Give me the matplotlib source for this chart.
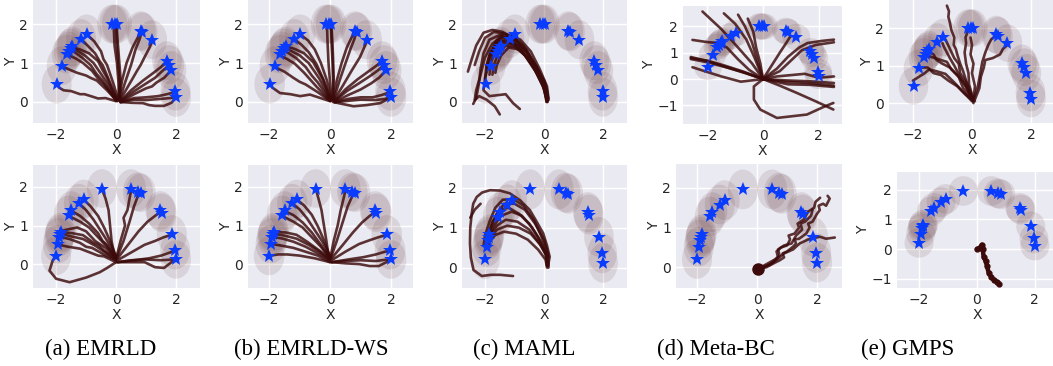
import matplotlib
matplotlib.use("Agg")
import matplotlib.pyplot as plt
from matplotlib.patches import Circle

# ---------------- data ----------------
top_goals_x = [-1.98, -1.81, -1.64, -1.57, -1.51, -1.46, -1.17, -0.98, -0.13, -0.05, 0.03,
               0.82, 0.88, 1.20, 1.70, 1.77, 1.84, 1.98, 2.00]
top_goals_y = [0.46, 0.93, 1.23, 1.31, 1.38, 1.43, 1.63, 1.75, 2.00, 2.00, 2.00,
               1.83, 1.80, 1.60, 1.06, 0.96, 0.81, 0.28, 0.12]
bot_goals_x = [-2.00, -1.94, -1.90, -1.87, -1.85, -1.57, -1.49, -1.24, -1.08, -0.47,
               0.50, 0.73, 0.82, 1.48, 1.52, 1.86, 1.97, 2.00]
bot_goals_y = [0.21, 0.52, 0.70, 0.77, 0.83, 1.28, 1.39, 1.58, 1.69, 1.96,
               1.96, 1.88, 1.85, 1.39, 1.33, 0.77, 0.36, 0.12]

captions = ["(a) EMRLD", "(b) EMRLD-WS", "(c) MAML", "(d) Meta-BC", "(e) GMPS"]

traj_a_top = [
    [(0.0, 0.02), (-0.35, 0.1), (-0.6, 0.09), (-0.8, 0.14), (-1.05, 0.2), (-1.2, 0.2), (-1.5, 0.28), (-1.75, 0.3), (-1.92, 0.38)],
    [(0.0, 0.05), (-0.3, 0.3), (-0.64, 0.55), (-0.85, 0.62), (-1.0, 0.68), (-1.3, 0.75), (-1.55, 0.83), (-1.76, 0.9)],
    [(0.0, 0.05), (-0.4, 0.45), (-0.6, 0.6), (-0.8, 0.8), (-1.1, 1.0), (-1.35, 1.12), (-1.58, 1.2)],
    [(0.0, 0.03), (-0.45, 0.55), (-0.65, 0.72), (-0.85, 0.95), (-1.15, 1.15), (-1.38, 1.28), (-1.5, 1.33)],
    [(0.05, 0.02), (-0.35, 0.55), (-0.75, 1.0), (-1.05, 1.2), (-1.3, 1.32), (-1.45, 1.38)],
    [(0.02, 0.04), (-0.3, 0.62), (-0.45, 0.82), (-0.6, 1.05), (-0.9, 1.25), (-1.2, 1.35), (-1.42, 1.4)],
    [(0.05, 0.05), (-0.2, 0.5), (-0.45, 0.95), (-0.55, 1.05), (-0.7, 1.25), (-0.95, 1.45), (-1.12, 1.58)],
    [(0.08, 0.05), (-0.1, 0.5), (-0.3, 0.95), (-0.42, 1.1), (-0.5, 1.3), (-0.72, 1.55), (-0.92, 1.7)],
    [(0.1, 0.05), (0.08, 0.5), (0.03, 1.0), (-0.05, 1.45), (-0.08, 1.95)],
    [(0.12, 0.05), (0.15, 0.6), (0.1, 1.1), (0.05, 1.6), (0.02, 1.95)],
    [(0.08, 0.05), (0.12, 0.5), (0.07, 1.0), (0.02, 1.5), (0.0, 1.95)],
    [(0.1, 0.05), (0.2, 0.55), (0.35, 1.0), (0.45, 1.2), (0.55, 1.4), (0.72, 1.65), (0.8, 1.8)],
    [(0.12, 0.05), (0.3, 0.5), (0.5, 0.95), (0.65, 1.35), (0.78, 1.6), (0.85, 1.78)],
    [(0.12, 0.03), (0.4, 0.4), (0.7, 0.8), (0.82, 0.95), (0.95, 1.15), (1.12, 1.4), (1.2, 1.55)],
    [(0.15, 0.03), (0.5, 0.3), (0.9, 0.55), (1.25, 0.75), (1.5, 0.9), (1.67, 1.03)],
    [(0.15, 0.02), (0.55, 0.25), (0.95, 0.45), (1.3, 0.62), (1.55, 0.8), (1.73, 0.92)],
    [(0.15, 0.0), (0.6, 0.2), (1.0, 0.35), (1.2, 0.4), (1.35, 0.5), (1.6, 0.62), (1.8, 0.78)],
    [(0.15, 0.0), (0.6, 0.1), (1.0, 0.12), (1.4, 0.15), (1.7, 0.2), (1.95, 0.25)],
    [(0.15, 0.0), (0.5, -0.02), (0.9, -0.03), (1.1, -0.08), (1.3, -0.1), (1.6, -0.1), (1.85, -0.02), (1.98, 0.1)],
    [(0.15, -0.01), (0.6, 0.06), (1.0, 0.05), (1.5, 0.08), (1.8, 0.1), (1.95, 0.12)],
]

traj_b_top = [
    [(0.0, 0.02), (-0.66, 0.19), (-0.98, 0.15), (-1.3, 0.2), (-1.64, 0.23), (-1.91, 0.38)],
    [(0.0, 0.03), (-0.4, 0.25), (-0.8, 0.45), (-1.0, 0.52), (-1.2, 0.62), (-1.5, 0.78), (-1.76, 0.88)],
    [(0.0, 0.03), (-0.45, 0.4), (-0.85, 0.75), (-1.15, 0.98), (-1.4, 1.1), (-1.6, 1.18)],
    [(0.0, 0.05), (-0.4, 0.5), (-0.6, 0.68), (-0.8, 0.9), (-1.1, 1.12), (-1.35, 1.25), (-1.52, 1.32)],
    [(0.03, 0.02), (-0.35, 0.6), (-0.7, 1.0), (-1.0, 1.2), (-1.25, 1.3), (-1.45, 1.38)],
    [(0.02, 0.05), (-0.25, 0.6), (-0.55, 1.02), (-0.85, 1.25), (-1.15, 1.36), (-1.4, 1.42)],
    [(0.03, 0.05), (-0.2, 0.55), (-0.45, 0.98), (-0.7, 1.28), (-0.95, 1.48), (-1.12, 1.58)],
    [(0.05, 0.05), (-0.1, 0.55), (-0.3, 1.0), (-0.5, 1.35), (-0.72, 1.58), (-0.92, 1.7)],
    [(0.05, 0.05), (0.0, 0.5), (-0.05, 1.0), (-0.08, 1.5), (-0.1, 1.95)],
    [(0.08, 0.05), (0.1, 0.55), (0.08, 1.05), (0.05, 1.5), (0.03, 1.95)],
    [(0.1, 0.05), (0.12, 0.6), (0.1, 1.1), (0.08, 1.5), (0.05, 1.93)],
    [(0.1, 0.05), (0.22, 0.55), (0.38, 1.0), (0.55, 1.4), (0.72, 1.68), (0.8, 1.8)],
    [(0.12, 0.05), (0.3, 0.52), (0.5, 0.98), (0.68, 1.38), (0.8, 1.62), (0.86, 1.78)],
    [(0.12, 0.03), (0.42, 0.42), (0.72, 0.82), (0.98, 1.15), (1.12, 1.4), (1.2, 1.55)],
    [(0.15, 0.03), (0.5, 0.32), (0.9, 0.58), (1.25, 0.78), (1.5, 0.92), (1.67, 1.03)],
    [(0.15, 0.02), (0.55, 0.28), (0.95, 0.48), (1.3, 0.66), (1.55, 0.8), (1.73, 0.92)],
    [(0.15, 0.0), (0.6, 0.18), (1.0, 0.32), (1.35, 0.48), (1.6, 0.62), (1.8, 0.78)],
    [(0.15, 0.0), (0.6, 0.08), (1.0, 0.12), (1.4, 0.12), (1.7, 0.18), (1.95, 0.25)],
    [(0.1, 0.0), (0.4, -0.05), (0.77, -0.11), (1.2, -0.08), (1.64, -0.03), (1.86, 0.06)],
    [(0.15, -0.01), (0.6, 0.03), (1.0, 0.06), (1.5, 0.05), (1.8, 0.08), (1.95, 0.12)],
]

traj_c_top = [
    [(0.14, 0.06), (0.1, 0.3), (0.0, 0.55), (-0.3, 0.95), (-0.6, 1.3), (-1.0, 1.6), (-1.4, 1.8),
     (-1.75, 1.85), (-2.05, 1.78), (-2.3, 1.45), (-2.45, 1.1), (-2.58, 0.78)],
    [(0.1, 0.02), (0.05, 0.35), (-0.2, 0.8), (-0.55, 1.25), (-0.9, 1.55), (-1.3, 1.75),
     (-1.7, 1.8), (-2.0, 1.65), (-2.2, 1.3), (-2.35, 0.95)],
    [(0.12, 0.05), (0.0, 0.4), (-0.3, 0.85), (-0.7, 1.3), (-1.1, 1.6), (-1.5, 1.72), (-1.85, 1.6),
     (-2.05, 1.25), (-2.15, 0.85), (-2.2, 0.5), (-2.3, 0.1), (-2.4, -0.05)],
    [(0.1, 0.0), (-0.05, 0.45), (-0.4, 0.95), (-0.8, 1.35), (-1.2, 1.55), (-1.55, 1.55),
     (-1.8, 1.3), (-1.95, 0.95), (-2.0, 0.6)],
    [(0.15, 0.05), (0.05, 0.4), (-0.25, 0.9), (-0.6, 1.3), (-1.0, 1.5), (-1.4, 1.5),
     (-1.65, 1.3), (-1.8, 1.0), (-1.85, 0.7)],
    [(0.1, 0.05), (0.0, 0.35), (-0.3, 0.8), (-0.65, 1.2), (-1.0, 1.42), (-1.3, 1.45),
     (-1.55, 1.25), (-1.7, 0.95), (-1.75, 0.7)],
    [(0.12, 0.0), (0.05, 0.3), (-0.2, 0.7), (-0.5, 1.1), (-0.85, 1.35), (-1.2, 1.4),
     (-1.45, 1.2), (-1.6, 0.95), (-1.65, 0.75)],
    [(0.1, 0.03), (-0.05, 0.5), (-0.35, 1.0), (-0.7, 1.45), (-1.05, 1.7), (-1.4, 1.75),
     (-1.65, 1.55), (-1.8, 1.2)],
    [(0.15, 0.1), (0.1, 0.4), (-0.15, 0.85), (-0.45, 1.3), (-0.8, 1.6), (-1.15, 1.72),
     (-1.5, 1.6), (-1.75, 1.3), (-1.9, 0.9), (-2.0, 0.6), (-2.05, 0.3), (-1.85, 0.15),
     (-1.3, 0.2), (-1.05, -0.03), (-0.82, -0.18)],
    [(0.12, 0.03), (0.05, 0.45), (-0.25, 0.9), (-0.6, 1.35), (-1.0, 1.62), (-1.4, 1.68),
     (-1.75, 1.5), (-2.0, 1.15), (-2.15, 0.7), (-2.3, 0.3), (-2.35, 0.05), (-2.2, 0.15),
     (-1.95, 0.06), (-1.67, -0.11), (-1.5, -0.32)],
    [(0.08, 0.0), (0.02, 0.3), (-0.25, 0.75), (-0.6, 1.15), (-0.95, 1.45), (-1.3, 1.6),
     (-1.6, 1.5), (-1.85, 1.2), (-1.95, 0.85)],
]

traj_d_top = [
    [(0.0, 0.0), (-0.7, 0.25), (-1.4, 0.48), (-2.0, 0.68), (-2.6, 0.84)],
    [(0.0, 0.0), (-0.7, 0.28), (-1.4, 0.52), (-2.0, 0.7), (-2.6, 0.8)],
    [(0.0, 0.0), (-0.6, 0.22), (-1.3, 0.44), (-2.0, 0.64), (-2.6, 0.76)],
    [(0.0, 0.0), (-0.4, 0.6), (-0.9, 1.2), (-1.5, 1.9), (-2.18, 2.57)],
    [(0.0, 0.0), (-0.5, 0.35), (-0.9, 0.75), (-1.3, 1.2), (-1.65, 1.37), (-2.1, 1.42), (-2.54, 1.49)],
    [(0.0, 0.0), (-0.8, -0.1), (-1.5, 0.1), (-2.1, 0.3), (-2.54, 0.45)],
    [(0.0, 0.0), (-0.3, 0.8), (-0.6, 1.5), (-1.0, 2.1), (-1.41, 2.5)],
    [(0.0, 0.0), (-0.2, 0.7), (-0.4, 1.4), (-0.65, 2.0), (-0.9, 2.45)],
    [(0.0, 0.0), (-0.1, 0.6), (-0.25, 1.2), (-0.35, 1.8), (-0.55, 2.3)],
    [(0.0, 0.0), (0.3, 0.5), (0.6, 1.0), (0.85, 1.4), (0.98, 1.62)],
    [(0.0, 0.0), (0.5, 0.4), (0.9, 0.85), (1.3, 1.2), (1.6, 1.37), (2.1, 1.45), (2.55, 1.5)],
    [(0.0, 0.0), (0.6, 0.3), (1.0, 0.7), (1.4, 1.1), (1.9, 1.3), (2.55, 1.4)],
    [(0.0, 0.0), (0.8, -0.05), (1.6, -0.08), (2.55, -0.15)],
    [(0.0, 0.0), (0.8, -0.1), (1.6, -0.15), (2.55, -0.25)],
    [(0.0, 0.0), (0.9, -0.2), (1.7, -0.22), (2.55, -0.3)],
    [(0.0, 0.0), (0.6, -0.25), (1.22, -0.53), (1.9, -0.85), (2.53, -1.16)],
    [(0.0, 0.0), (-0.33, -0.28), (-0.33, -0.78), (-0.1, -1.16), (0.5, -1.48), (1.58, -1.35),
     (2.2, -1.05), (2.53, -0.91)],
    [(0.0, 0.0), (0.5, 0.1), (1.0, 0.15), (1.5, 0.2), (2.0, 0.05), (2.55, 0.1)],
]

traj_e_top = [
    [(0.05, 0.0), (-0.05, 0.3), (-0.2, 0.6), (-0.3, 0.85), (-0.4, 1.05), (-0.5, 1.3),
     (-0.55, 1.45), (-0.62, 1.55), (-0.6, 1.75), (-0.7, 1.95), (-0.75, 2.15), (-0.8, 2.3),
     (-0.78, 2.45), (-0.85, 2.6)],
    [(0.0, 0.05), (-0.3, 0.3), (-0.6, 0.55), (-0.9, 0.78), (-1.2, 0.85), (-1.45, 0.9),
     (-1.6, 0.8), (-1.8, 0.7), (-2.0, 0.6)],
    [(0.0, 0.1), (-0.3, 0.4), (-0.45, 0.7), (-0.7, 0.9), (-0.85, 1.1), (-1.05, 1.15),
     (-1.25, 1.2), (-1.45, 1.25)],
    [(0.0, 0.1), (-0.2, 0.45), (-0.4, 0.7), (-0.6, 1.0), (-0.75, 1.2), (-0.85, 1.35),
     (-0.95, 1.5), (-1.0, 1.6)],
    [(0.05, 0.1), (-0.1, 0.5), (-0.12, 0.8), (-0.2, 1.05), (-0.25, 1.35), (-0.2, 1.6),
     (-0.22, 1.75), (-0.15, 1.9)],
    [(0.05, 0.1), (0.1, 0.45), (0.0, 0.8), (0.05, 1.05), (-0.05, 1.3), (0.0, 1.55),
     (-0.05, 1.75)],
    [(0.1, 0.1), (0.25, 0.4), (0.3, 0.7), (0.4, 0.95), (0.45, 1.15), (0.7, 1.2), (0.95, 1.3),
     (1.05, 1.45), (1.2, 1.55)],
    [(0.05, 0.1), (0.2, 0.45), (0.28, 0.8), (0.35, 1.1), (0.45, 1.35), (0.55, 1.55),
     (0.65, 1.7), (0.78, 1.78)],
    [(0.05, 0.05), (-0.15, 0.35), (-0.3, 0.55), (-0.5, 0.75), (-0.75, 0.95), (-1.0, 1.05),
     (-1.2, 1.15), (-1.3, 1.3), (-1.5, 1.38)],
    [(0.05, 0.05), (-0.25, 0.25), (-0.5, 0.45), (-0.8, 0.6), (-1.05, 0.75), (-1.3, 0.8),
     (-1.5, 0.95), (-1.75, 0.95)],
    [(0.1, 0.05), (-0.1, 0.3), (-0.2, 0.55), (-0.4, 0.8), (-0.45, 1.05), (-0.6, 1.2),
     (-0.75, 1.45), (-0.9, 1.7)],
]

traj_a_bot = [
    [(0.0, 0.05), (-0.3, -0.1), (-0.54, -0.21), (-1.0, -0.35), (-1.55, -0.47), (-2.0, -0.38),
     (-2.22, -0.17), (-2.11, 0.1), (-2.0, 0.21)],
    [(0.0, 0.05), (-0.4, 0.2), (-0.6, 0.22), (-0.8, 0.28), (-1.2, 0.4), (-1.6, 0.45), (-1.9, 0.5)],
    [(0.0, 0.1), (-0.4, 0.25), (-0.8, 0.42), (-1.0, 0.45), (-1.2, 0.55), (-1.55, 0.65), (-1.85, 0.7)],
    [(0.0, 0.1), (-0.35, 0.3), (-0.7, 0.48), (-1.1, 0.65), (-1.5, 0.72), (-1.83, 0.78)],
    [(0.0, 0.15), (-0.4, 0.35), (-0.6, 0.5), (-0.75, 0.55), (-1.1, 0.75), (-1.45, 0.8), (-1.8, 0.83)],
    [(0.0, 0.15), (-0.35, 0.42), (-0.7, 0.6), (-1.0, 0.85), (-1.3, 0.95), (-1.6, 0.9), (-1.82, 0.86)],
    [(0.0, 0.15), (-0.3, 0.45), (-0.6, 0.7), (-0.9, 0.95), (-1.2, 1.1), (-1.5, 1.22)],
    [(0.0, 0.15), (-0.3, 0.5), (-0.45, 0.6), (-0.6, 0.8), (-0.9, 1.05), (-1.2, 1.25), (-1.42, 1.35)],
    [(0.0, 0.2), (-0.25, 0.55), (-0.5, 0.85), (-0.75, 1.15), (-1.0, 1.4), (-1.2, 1.55)],
    [(0.0, 0.2), (-0.2, 0.6), (-0.4, 0.95), (-0.6, 1.25), (-0.85, 1.5), (-1.05, 1.65)],
    [(-0.05, 0.2), (-0.15, 0.6), (-0.2, 1.0), (-0.25, 1.4), (-0.35, 1.7), (-0.45, 1.9)],
    [(0.02, 0.2), (0.15, 0.6), (0.3, 1.0), (0.25, 1.2), (0.38, 1.4), (0.45, 1.7), (0.5, 1.9)],
    [(0.02, 0.15), (0.25, 0.6), (0.45, 1.1), (0.6, 1.5), (0.72, 1.75), (0.78, 1.85)],
    [(0.05, 0.15), (0.4, 0.5), (0.75, 0.85), (1.05, 1.1), (1.3, 1.25), (1.48, 1.35)],
    [(0.05, 0.1), (0.5, 0.3), (0.95, 0.5), (1.3, 0.6), (1.6, 0.7), (1.82, 0.75)],
    [(0.05, 0.05), (0.6, 0.1), (1.1, 0.15), (1.5, 0.22), (1.8, 0.3), (1.95, 0.35)],
    [(0.05, 0.05), (0.5, 0.05), (0.95, 0.05), (1.3, -0.08), (1.6, -0.1), (1.85, 0.05), (2.0, 0.12)],
    [(0.05, 0.05), (0.5, 0.1), (1.0, 0.12), (1.5, 0.1), (1.9, 0.12)],
]

traj_b_bot = [
    [(0.0, 0.05), (-0.5, 0.15), (-1.0, 0.22), (-1.4, 0.25), (-1.7, 0.25), (-1.95, 0.22)],
    [(0.0, 0.05), (-0.4, 0.22), (-0.8, 0.32), (-1.2, 0.42), (-1.6, 0.48), (-1.9, 0.52)],
    [(0.0, 0.1), (-0.4, 0.28), (-0.8, 0.45), (-1.2, 0.58), (-1.55, 0.66), (-1.85, 0.7)],
    [(0.0, 0.1), (-0.35, 0.32), (-0.7, 0.5), (-1.1, 0.66), (-1.5, 0.74), (-1.83, 0.78)],
    [(0.0, 0.15), (-0.4, 0.38), (-0.75, 0.58), (-1.1, 0.76), (-1.45, 0.82), (-1.8, 0.83)],
    [(0.0, 0.15), (-0.3, 0.45), (-0.6, 0.7), (-0.9, 0.95), (-1.2, 1.1), (-1.5, 1.22)],
    [(0.0, 0.15), (-0.3, 0.5), (-0.6, 0.82), (-0.9, 1.08), (-1.2, 1.27), (-1.42, 1.35)],
    [(0.0, 0.2), (-0.25, 0.58), (-0.5, 0.88), (-0.75, 1.18), (-1.0, 1.42), (-1.2, 1.55)],
    [(0.0, 0.2), (-0.2, 0.62), (-0.4, 0.98), (-0.6, 1.28), (-0.85, 1.52), (-1.05, 1.65)],
    [(-0.05, 0.2), (-0.12, 0.6), (-0.2, 1.0), (-0.28, 1.4), (-0.38, 1.7), (-0.45, 1.9)],
    [(0.02, 0.2), (0.12, 0.6), (0.25, 1.0), (0.35, 1.4), (0.45, 1.72), (0.5, 1.9)],
    [(0.02, 0.15), (0.22, 0.6), (0.42, 1.1), (0.58, 1.5), (0.72, 1.75), (0.78, 1.85)],
    [(0.05, 0.15), (0.4, 0.48), (0.75, 0.82), (1.05, 1.08), (1.3, 1.25), (1.48, 1.35)],
    [(0.05, 0.1), (0.5, 0.32), (0.95, 0.52), (1.3, 0.62), (1.6, 0.7), (1.82, 0.75)],
    [(0.05, 0.05), (0.6, 0.12), (1.1, 0.18), (1.5, 0.25), (1.8, 0.32), (1.95, 0.35)],
    [(0.05, 0.05), (0.5, 0.02), (0.95, 0.0), (1.3, -0.05), (1.6, -0.05), (1.85, 0.05), (2.0, 0.12)],
    [(0.05, 0.05), (0.5, 0.08), (1.0, 0.1), (1.5, 0.08), (1.9, 0.12)],
]

traj_c_bot = [
    [(0.14, 0.07), (0.19, 0.27), (0.1, 0.55), (-0.03, 0.86), (-0.25, 1.15), (-0.48, 1.44),
     (-0.8, 1.68), (-1.16, 1.86), (-1.5, 1.93), (-1.83, 1.94), (-2.1, 1.88), (-2.28, 1.77),
     (-2.4, 1.6), (-2.45, 1.36), (-2.5, 1.0), (-2.51, 0.61), (-2.48, 0.25), (-2.39, -0.06),
     (-2.11, -0.21), (-1.8, -0.18), (-1.49, -0.18), (-1.05, -0.21)],
    [(0.12, 0.05), (0.15, 0.3), (0.0, 0.7), (-0.3, 1.1), (-0.65, 1.45), (-1.0, 1.6),
     (-1.35, 1.6), (-1.6, 1.35), (-1.8, 1.0), (-1.9, 0.7), (-1.95, 0.5)],
    [(0.1, 0.05), (0.1, 0.3), (-0.1, 0.65), (-0.4, 1.0), (-0.75, 1.3), (-1.1, 1.4),
     (-1.45, 1.3), (-1.7, 1.05), (-1.85, 0.75), (-1.9, 0.55)],
    [(0.15, 0.0), (0.12, 0.25), (-0.1, 0.55), (-0.45, 0.85), (-0.85, 1.0), (-1.25, 1.05),
     (-1.6, 0.95), (-1.8, 0.75), (-1.85, 0.6)],
    [(0.1, 0.0), (0.05, 0.2), (-0.2, 0.45), (-0.55, 0.7), (-0.95, 0.85), (-1.35, 0.9),
     (-1.65, 0.82), (-1.85, 0.65)],
    [(0.1, 0.05), (0.05, 0.35), (-0.2, 0.75), (-0.5, 1.1), (-0.85, 1.35), (-1.2, 1.5),
     (-1.5, 1.45), (-1.75, 1.15), (-1.9, 0.8), (-1.95, 0.6)],
    [(0.12, 0.05), (0.08, 0.3), (-0.15, 0.6), (-0.5, 0.95), (-0.9, 1.15), (-1.3, 1.2),
     (-1.6, 1.05), (-1.8, 0.85)],
    [(0.15, 0.05), (0.1, 0.4), (-0.1, 0.8), (-0.35, 1.2), (-0.7, 1.55), (-1.05, 1.72),
     (-1.4, 1.7), (-1.65, 1.5), (-1.85, 1.15), (-2.0, 0.8), (-2.05, 0.55)],
    [(-2.5, 1.25), (-2.35, 1.45), (-2.15, 1.6)],
]

traj_d_bot = [
    [(0.03, -0.04), (0.3, 0.0), (0.55, 0.1), (0.76, 0.18), (0.9, 0.25), (0.85, 0.35), (1.0, 0.4),
     (1.2, 0.52), (1.3, 0.6), (1.25, 0.7), (1.4, 0.72), (1.64, 0.85), (1.75, 1.0), (1.7, 1.1),
     (1.85, 1.15), (2.0, 1.35), (2.09, 1.44), (2.05, 1.55), (2.2, 1.6), (2.3, 1.55),
     (2.42, 1.73), (2.35, 1.8)],
    [(0.03, -0.04), (0.4, 0.05), (0.7, 0.25), (0.65, 0.4), (0.8, 0.5), (1.0, 0.55), (1.1, 0.7),
     (1.05, 0.8), (1.25, 0.85), (1.4, 1.0), (1.35, 1.1), (1.55, 1.2), (1.7, 1.4), (1.9, 1.5),
     (1.95, 1.65), (2.1, 1.75)],
    [(0.03, -0.04), (0.5, 0.1), (0.9, 0.35), (1.2, 0.45), (1.42, 0.6), (1.7, 0.7), (2.09, 0.77),
     (2.3, 0.72), (2.59, 0.75)],
    [(0.03, -0.04), (0.6, 0.2), (0.75, 0.3), (0.7, 0.45), (0.9, 0.55), (1.15, 0.6), (1.3, 0.8),
     (1.5, 0.95), (1.45, 1.1), (1.6, 1.15), (1.8, 1.3), (1.85, 1.45)],
]

traj_e_bot = [
    [(0.0, 0.0), (0.1, 0.05), (0.17, 0.15), (0.2, 0.0), (0.23, -0.25), (0.3, -0.4),
     (0.35, -0.58), (0.41, -0.81), (0.5, -0.95), (0.58, -1.03), (0.68, -1.1), (0.76, -1.17)],
]

# ---------------- layout (pixel boxes: left, top, right, bottom) ----------------
W, H = 1053, 366
panels = [
    dict(box=(33, 0, 200, 123), xlim=(-2.77, 2.8), ylim=(-0.54, 2.62), yt=[0, 1, 2],
         traj=traj_a_top, gx=top_goals_x, gy=top_goals_y),
    dict(box=(248, 0, 413, 123), xlim=(-2.69, 2.72), ylim=(-0.54, 2.62), yt=[0, 1, 2],
         traj=traj_b_top, gx=top_goals_x, gy=top_goals_y),
    dict(box=(462, 0, 627, 123), xlim=(-2.78, 2.81), ylim=(-0.54, 2.62), yt=[0, 1, 2],
         traj=traj_c_top, gx=top_goals_x, gy=top_goals_y),
    dict(box=(683, 6, 842, 124), xlim=(-2.88, 2.84), ylim=(-1.71, 2.78), yt=[-1, 0, 1, 2],
         traj=traj_d_top, gx=top_goals_x, gy=top_goals_y),
    dict(box=(889, 0, 1055, 123), xlim=(-2.81, 2.81), ylim=(-0.53, 2.75), yt=[0, 1, 2],
         traj=traj_e_top, gx=top_goals_x, gy=top_goals_y),
    dict(box=(33, 165, 200, 288), xlim=(-2.77, 2.8), ylim=(-0.62, 2.57), yt=[0, 1, 2],
         traj=traj_a_bot, gx=bot_goals_x, gy=bot_goals_y),
    dict(box=(248, 165, 413, 288), xlim=(-2.69, 2.72), ylim=(-0.62, 2.57), yt=[0, 1, 2],
         traj=traj_b_bot, gx=bot_goals_x, gy=bot_goals_y),
    dict(box=(462, 165, 627, 288), xlim=(-2.78, 2.81), ylim=(-0.51, 2.57), yt=[0, 1, 2],
         traj=traj_c_bot, gx=bot_goals_x, gy=bot_goals_y),
    dict(box=(676, 164, 842, 288), xlim=(-2.7, 2.83), ylim=(-0.52, 2.6), yt=[0, 1, 2],
         traj=traj_d_bot, gx=bot_goals_x, gy=bot_goals_y),
    dict(box=(897, 172, 1058, 288), xlim=(-2.76, 2.8), ylim=(-1.31, 2.6), yt=[-1, 0, 1, 2],
         traj=traj_e_bot, gx=bot_goals_x, gy=bot_goals_y),
]
caption_x = [101, 311, 524, 716, 908]

plt.rcParams.update({
    "font.family": ["DejaVu Sans"],
    "axes.facecolor": "#EAEAF2",
    "axes.edgecolor": "white",
    "grid.color": "white",
    "grid.linewidth": 1.0,
    "xtick.color": "#262626",
    "ytick.color": "#262626",
    "axes.labelcolor": "#262626",
    "xtick.major.size": 0,
    "ytick.major.size": 0,
})

fig = plt.figure(figsize=(W / 100, H / 100), dpi=100)

LINE_C = "#3c0a0a"
for i, p in enumerate(panels):
    l, t, r, b = p["box"]
    ax = fig.add_axes([l / W, 1 - b / H, (r - l) / W, (b - t) / H])
    ax.set_axisbelow(True)
    ax.grid(True, color="white", lw=1.0)
    for s in ax.spines.values():
        s.set_visible(False)
    for gx, gy in zip(p["gx"], p["gy"]):
        ax.add_patch(Circle((gx, gy), 0.5, facecolor="#5c2a2e", alpha=0.12,
                            edgecolor="none", zorder=1))
    for tr in p["traj"]:
        xs = [q[0] for q in tr]
        ys = [q[1] for q in tr]
        if i == 9:
            ax.plot(xs, ys, color=LINE_C, lw=3.2, marker="o", ms=3.5, zorder=2,
                    solid_capstyle="round")
        else:
            ax.plot(xs, ys, color=LINE_C, lw=1.9, alpha=0.82, zorder=2,
                    solid_capstyle="round", solid_joinstyle="round")
    if i == 8:
        ax.plot([0.03], [-0.04], "o", color=LINE_C, ms=8, zorder=3)
    ax.plot(p["gx"], p["gy"], linestyle="none", marker="*", ms=10, color="#0a3cff",
            markeredgewidth=0, zorder=4)
    ax.set_xlim(*p["xlim"])
    ax.set_ylim(*p["ylim"])
    ax.set_xticks([-2, 0, 2])
    ax.set_yticks(p["yt"])
    ax.tick_params(labelsize=10, pad=3.5)
    ax.set_xlabel("X", fontsize=10, labelpad=1)
    ax.set_ylabel("Y", fontsize=10, labelpad=1)

for cx, cap in zip(caption_x, captions):
    fig.text(cx / W, 1 - 349 / H, cap, ha="center", va="center",
             family=["Liberation Serif"], fontsize=16.5, color="black")

fig.savefig("out.png", dpi=100, facecolor="white")
